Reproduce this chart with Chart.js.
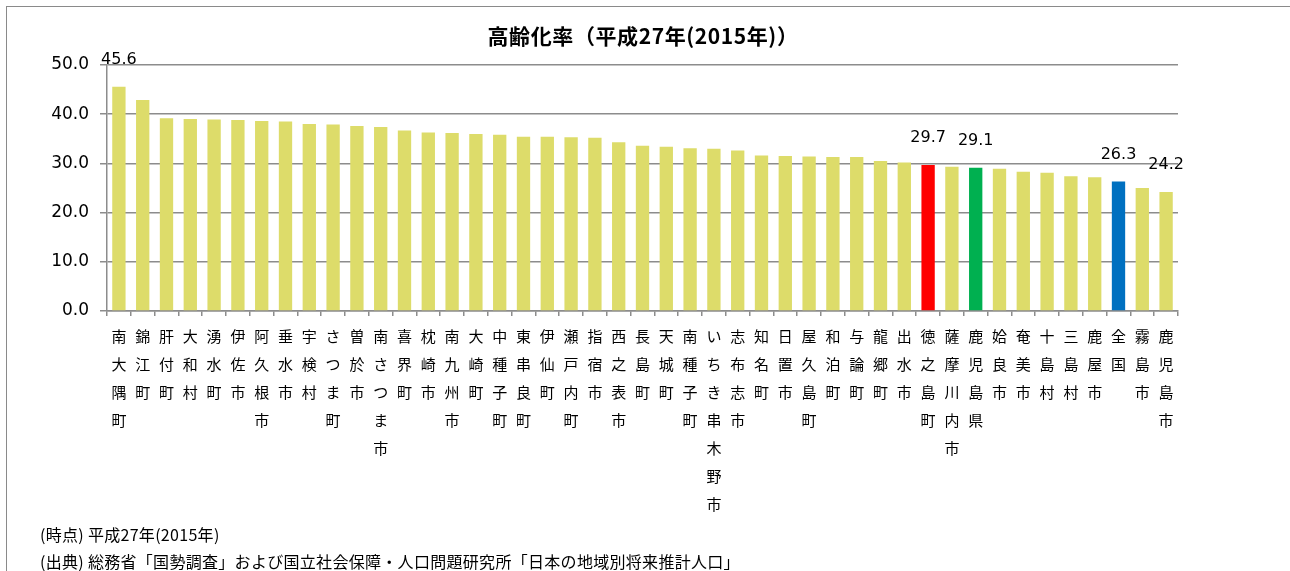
<!DOCTYPE html>
<html lang="ja">
<head>
<meta charset="utf-8">
<title>高齢化率（平成27年(2015年)）</title>
<script src="https://cdn.jsdelivr.net/npm/chart.js@4.4.1/dist/chart.umd.min.js"></script>
<style>
  html, body { margin: 0; padding: 0; background: #fff; overflow: hidden; }
  .wrap { position: relative; width: 1290px; height: 571px; }
  .frame { position: absolute; left: 6px; top: 6px; width: 1400px; height: 700px; border: 1.5px solid #8a8a8a; box-sizing: border-box; pointer-events: none; }
  canvas { position: absolute; left: 0; top: 0; }
</style>
</head>
<body>
<div class="wrap">
  <canvas id="agingChart" width="1290" height="571"></canvas>
  <div class="frame"></div>
</div>
<script>
// 市町村別 高齢化率 (%) — 平成27年
const categories = [
  '南大隅町', '錦江町', '肝付町', '大和村', '湧水町', '伊佐市', '阿久根市', '垂水市', '宇検村', 'さつま町',
  '曽於市', '南さつま市', '喜界町', '枕崎市', '南九州市', '大崎町', '中種子町', '東串良町', '伊仙町', '瀬戸内町',
  '指宿市', '西之表市', '長島町', '天城町', '南種子町', 'いちき串木野市', '志布志市', '知名町', '日置市', '屋久島町',
  '和泊町', '与論町', '龍郷町', '出水市', '徳之島町', '薩摩川内市', '鹿児島県', '姶良市', '奄美市', '十島村',
  '三島村', '鹿屋市', '全国', '霧島市', '鹿児島市'
];

const agingRate = [
  45.6, 42.9, 39.2, 39.0, 38.9, 38.8, 38.6, 38.5, 38.0, 37.9,
  37.6, 37.4, 36.7, 36.3, 36.2, 36.0, 35.8, 35.4, 35.4, 35.3,
  35.2, 34.3, 33.6, 33.4, 33.1, 33.0, 32.6, 31.6, 31.5, 31.4,
  31.3, 31.3, 30.5, 30.2, 29.7, 29.3, 29.1, 28.9, 28.3, 28.1,
  27.4, 27.2, 26.3, 25.0, 24.2
];

const yTicks = [0, 10, 20, 30, 40, 50];

// 色分けする項目と値ラベルを付ける項目
const highlightColors = { '徳之島町': '#FF0000', '鹿児島県': '#00B050', '全国': '#0070C0' };
const labeledCategories = ['南大隅町', '徳之島町', '鹿児島県', '全国', '鹿児島市'];

const chartTitle = '高齢化率（平成27年(2015年)）';
const notes = [
  '(時点) 平成27年(2015年)',
  '(出典) 総務省「国勢調査」および国立社会保障・人口問題研究所「日本の地域別将来推計人口」'
];

const BASE_COLOR = '#DDDC6A';
const GRID_COLOR = '#8c8c8c';
const NUM_FONT = '"DejaVu Sans", Verdana, sans-serif';
const JP_FONT = '"Noto Sans CJK JP", "Noto Sans", sans-serif';

const barColors = categories.map(c => highlightColors[c] || BASE_COLOR);

// タイトル・注記・値ラベルを描くプラグイン
const decorPlugin = {
  id: 'decor',
  afterDraw(chart) {
    const { ctx } = chart;
    ctx.save();
    ctx.fillStyle = '#000';

    ctx.font = `bold 21px ${JP_FONT}`;
    ctx.letterSpacing = '0.6px';
    ctx.textAlign = 'center';
    ctx.textBaseline = 'middle';
    ctx.fillText(chartTitle, 643, 36);

    ctx.font = `16px ${JP_FONT}`;
    ctx.letterSpacing = '0.3px';
    ctx.textAlign = 'left';
    notes.forEach((t, i) => ctx.fillText(t, 40, 535 + i * 27));

    const meta = chart.getDatasetMeta(0);
    ctx.font = `16px ${NUM_FONT}`;
    ctx.letterSpacing = '0px';
    ctx.textAlign = 'center';
    categories.forEach((c, i) => {
      if (!labeledCategories.includes(c)) return;
      const bar = meta.data[i];
      ctx.fillText(agingRate[i].toFixed(1), bar.x, bar.y - 27);
    });
    ctx.restore();
  }
};

new Chart(document.getElementById('agingChart'), {
  type: 'bar',
  data: {
    labels: categories.map(c => [...c]),
    datasets: [{
      data: agingRate,
      backgroundColor: barColors,
      borderWidth: 0,
      categoryPercentage: 1,
      barPercentage: 0.56
    }]
  },
  options: {
    responsive: false,
    animation: false,
    layout: { padding: { top: 65, right: 112, bottom: 0, left: 0 } },
    plugins: {
      legend: { display: false },
      tooltip: { enabled: false },
      title: { display: false }
    },
    scales: {
      x: {
        grid: { drawOnChartArea: false, drawTicks: true, tickLength: 5, color: GRID_COLOR, lineWidth: 1.5 },
        border: { display: true, color: GRID_COLOR, width: 1.5 },
        ticks: {
          font: { family: JP_FONT, size: 15, lineHeight: 1.87 },
          color: '#000',
          maxRotation: 0,
          autoSkip: false,
          padding: 6
        },
        afterFit: s => { s.height = 260; }
      },
      y: {
        min: 0,
        max: 50,
        afterBuildTicks: s => { s.ticks = yTicks.map(v => ({ value: v })); },
        grid: { color: GRID_COLOR, lineWidth: 1.5, tickLength: 7 },
        border: { display: true, color: GRID_COLOR, width: 1.5 },
        ticks: {
          font: { family: NUM_FONT, size: 17 },
          color: '#000',
          padding: 11,
          callback: v => v.toFixed(1)
        },
        afterFit: s => { s.width = 107; }
      }
    }
  },
  plugins: [decorPlugin]
});
</script>
</body>
</html>
